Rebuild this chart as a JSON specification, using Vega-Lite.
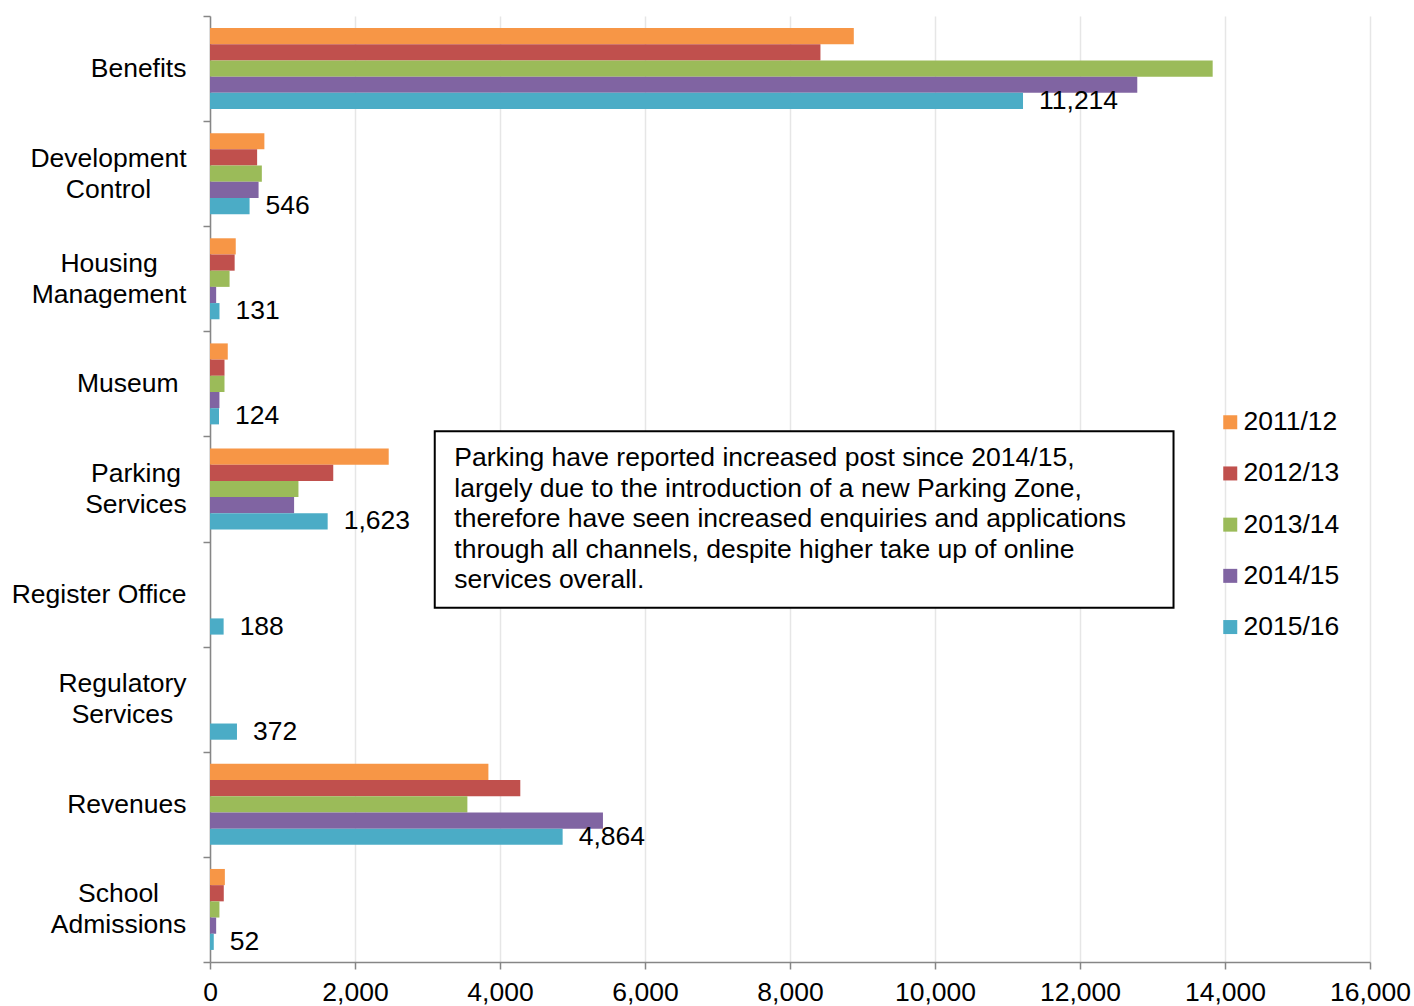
{
  "$schema": "https://vega.github.io/schema/vega-lite/v6.json",
  "width": 1160,
  "height": 946,
  "autosize": {"type": "none"},
  "padding": {"left": 210, "top": 16, "right": 44, "bottom": 44},
  "config": {
    "view": {"stroke": null},
    "font": "Liberation Sans",
    "text": {"font": "Liberation Sans"}
  },
  "datasets": {
    "enquiries": [
      {"category": "Benefits", "year": "2011/12", "value": 8880},
      {"category": "Benefits", "year": "2012/13", "value": 8420},
      {"category": "Benefits", "year": "2013/14", "value": 13830},
      {"category": "Benefits", "year": "2014/15", "value": 12790},
      {"category": "Benefits", "year": "2015/16", "value": 11214},
      {"category": "Development Control", "year": "2011/12", "value": 750},
      {"category": "Development Control", "year": "2012/13", "value": 650},
      {"category": "Development Control", "year": "2013/14", "value": 715},
      {"category": "Development Control", "year": "2014/15", "value": 670},
      {"category": "Development Control", "year": "2015/16", "value": 546},
      {"category": "Housing Management", "year": "2011/12", "value": 355},
      {"category": "Housing Management", "year": "2012/13", "value": 340},
      {"category": "Housing Management", "year": "2013/14", "value": 270},
      {"category": "Housing Management", "year": "2014/15", "value": 85},
      {"category": "Housing Management", "year": "2015/16", "value": 131},
      {"category": "Museum", "year": "2011/12", "value": 245},
      {"category": "Museum", "year": "2012/13", "value": 200},
      {"category": "Museum", "year": "2013/14", "value": 200},
      {"category": "Museum", "year": "2014/15", "value": 130},
      {"category": "Museum", "year": "2015/16", "value": 124},
      {"category": "Parking Services", "year": "2011/12", "value": 2465},
      {"category": "Parking Services", "year": "2012/13", "value": 1700},
      {"category": "Parking Services", "year": "2013/14", "value": 1220},
      {"category": "Parking Services", "year": "2014/15", "value": 1160},
      {"category": "Parking Services", "year": "2015/16", "value": 1623},
      {"category": "Register Office", "year": "2015/16", "value": 188},
      {"category": "Regulatory Services", "year": "2015/16", "value": 372},
      {"category": "Revenues", "year": "2011/12", "value": 3840},
      {"category": "Revenues", "year": "2012/13", "value": 4280},
      {"category": "Revenues", "year": "2013/14", "value": 3550},
      {"category": "Revenues", "year": "2014/15", "value": 5420},
      {"category": "Revenues", "year": "2015/16", "value": 4864},
      {"category": "School Admissions", "year": "2011/12", "value": 205},
      {"category": "School Admissions", "year": "2012/13", "value": 190},
      {"category": "School Admissions", "year": "2013/14", "value": 130},
      {"category": "School Admissions", "year": "2014/15", "value": 85},
      {"category": "School Admissions", "year": "2015/16", "value": 52}
    ],
    "note": [
      {"note": "Parking have reported increased post since 2014/15,\nlargely due to the introduction of a new Parking Zone,\ntherefore have seen increased enquiries and applications\nthrough all channels, despite higher take up of online\nservices overall."}
    ]
  },
  "layer": [
    {
      "data": {"name": "enquiries"},
      "encoding": {
        "y": {
          "field": "category",
          "type": "nominal",
          "sort": null,
          "scale": {"paddingInner": 0, "paddingOuter": 0},
          "axis": {
            "title": null,
            "tickBand": "extent",
            "domainColor": "#868686",
            "domainWidth": 1.5,
            "tickColor": "#868686",
            "tickWidth": 1.5,
            "tickSize": 7,
            "labelFont": "Liberation Sans",
            "labelFontSize": 26.5,
            "labelColor": "#000000",
            "labelBaseline": "middle",
            "labelLineHeight": 31,
            "labelLimit": 400,
            "labelAlign": {
              "condition": {
                "test": "indexof(['Development Control', 'Housing Management', 'Parking Services', 'Regulatory Services', 'School Admissions'], datum.value) >= 0",
                "value": "center"
              },
              "value": "right"
            },
            "labelPadding": {
              "condition": [
                {"test": "datum.value == 'Development Control'", "value": 95},
                {"test": "datum.value == 'Housing Management'", "value": 94.5},
                {"test": "datum.value == 'Parking Services'", "value": 67.5},
                {"test": "datum.value == 'Regulatory Services'", "value": 81},
                {"test": "datum.value == 'School Admissions'", "value": 85},
                {"test": "datum.value == 'Museum'", "value": 25}
              ],
              "value": 17
            },
            "labelOffset": {
              "condition": {
                "test": "indexof(['Development Control', 'Housing Management', 'Parking Services', 'Regulatory Services', 'School Admissions'], datum.value) >= 0",
                "value": -15.5
              },
              "value": 0
            },
            "labelExpr": "indexof(['Development Control', 'Housing Management', 'Parking Services', 'Regulatory Services', 'School Admissions'], datum.label) >= 0 ? split(datum.label, ' ') : datum.label"
          }
        },
        "yOffset": {
          "field": "year",
          "type": "nominal",
          "scale": {"paddingInner": 0, "paddingOuter": 0.745}
        },
        "x": {
          "field": "value",
          "type": "quantitative",
          "scale": {"domain": [0, 16000], "nice": false},
          "axis": {
            "title": null,
            "tickCount": 8,
            "labelExpr": "format(datum.value, ',')",
            "grid": true,
            "gridColor": "#e6e6e6",
            "gridWidth": 1.5,
            "domainColor": "#868686",
            "domainWidth": 1.5,
            "tickColor": "#868686",
            "tickWidth": 1.5,
            "tickSize": 7,
            "labelFont": "Liberation Sans",
            "labelFontSize": 26.5,
            "labelColor": "#000000",
            "labelPadding": 10,
            "labelFlush": false,
            "labelOverlap": false
          }
        }
      },
      "layer": [
        {
          "mark": {"type": "bar"},
          "encoding": {
            "color": {
              "field": "year",
              "type": "nominal",
              "scale": {
                "domain": ["2011/12", "2012/13", "2013/14", "2014/15", "2015/16"],
                "range": ["#F79646", "#C0504D", "#9BBB59", "#8064A2", "#4BACC6"]
              },
              "legend": {
                "title": null,
                "orient": "none",
                "legendX": 1007,
                "legendY": 393,
                "padding": 0,
                "symbolType": "square",
                "symbolSize": 196,
                "symbolStrokeWidth": 0,
                "labelFont": "Liberation Sans",
                "labelFontSize": 26.5,
                "labelColor": "#000000",
                "labelOffset": 0,
                "rowPadding": 24.2
              }
            }
          }
        },
        {
          "transform": [{"filter": "datum.year == '2015/16'"}],
          "mark": {
            "type": "text",
            "align": "left",
            "baseline": "middle",
            "dx": 16,
            "fontSize": 26.5,
            "color": "#000000"
          },
          "encoding": {
            "text": {"field": "value", "type": "quantitative", "format": ","}
          }
        }
      ]
    },
    {
      "data": {"name": "note"},
      "encoding": {
        "x": {
          "datum": 3100,
          "type": "quantitative",
          "scale": {"domain": [0, 16000], "nice": false, "zero": false},
          "axis": null
        },
        "y": {
          "datum": 3.95,
          "type": "quantitative",
          "scale": {"domain": [0, 9], "reverse": true, "nice": false, "zero": false},
          "axis": null
        }
      },
      "layer": [
        {
          "mark": {"type": "rect", "fill": "#ffffff", "stroke": "#000000", "strokeWidth": 2},
          "encoding": {
            "x2": {"datum": 13290},
            "y2": {"datum": 5.63}
          }
        },
        {
          "mark": {
            "type": "text",
            "align": "left",
            "baseline": "alphabetic",
            "lineBreak": "\n",
            "lineHeight": 30.5,
            "fontSize": 26.5,
            "color": "#000000"
          },
          "encoding": {
            "x": {"datum": 3370, "type": "quantitative"},
            "y": {"datum": 4.283, "type": "quantitative"},
            "text": {"field": "note", "type": "nominal"}
          }
        }
      ]
    }
  ],
  "resolve": {
    "scale": {"x": "independent", "y": "independent"},
    "axis": {"x": "independent", "y": "independent"}
  }
}
